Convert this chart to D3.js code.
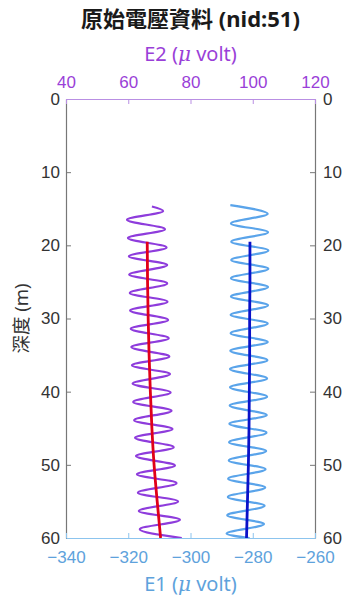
<!DOCTYPE html>
<html>
<head>
<meta charset="utf-8">
<script src="https://cdn.jsdelivr.net/npm/d3@7"></script>
<style>
  html, body { margin: 0; padding: 0; background: #fff; }
  svg { display: block; font-family: "Noto Sans", "Noto Sans CJK TC", sans-serif; }
</style>
</head>
<body>
<svg id="chart" width="345" height="601"></svg>
<script>
// Depth axis ticks (m) and the two voltage axes
const depthTicks = [0, 10, 20, 30, 40, 50, 60];
const e2Ticks = [40, 60, 80, 100, 120];
const e1Ticks = [-340, -320, -300, -280, -260];

// E2 raw record: depth (m) and voltage (μV)
const depthE2 = [14.7, 15.3, 16.5, 17.8, 19.0, 20.3, 21.5, 22.7, 24.0, 25.2, 26.5, 27.7, 28.9,
  30.2, 31.4, 32.7, 33.9, 35.2, 36.4, 37.6, 38.9, 40.1, 41.4, 42.6, 43.9, 45.1, 46.3, 47.6,
  48.8, 50.1, 51.3, 52.5, 53.8, 55.0, 56.3, 57.5, 58.8, 60.0];
const valueE2 = [67.6, 71.2, 59.6, 71.8, 59.9, 72.3, 60.2, 72.5, 60.3, 72.5, 60.5, 72.6, 60.6,
  72.8, 60.8, 73.0, 61.0, 73.2, 61.2, 73.4, 61.4, 73.6, 61.6, 73.9, 61.9, 74.2, 62.2, 74.6,
  62.5, 75.0, 62.8, 75.5, 63.1, 76.0, 63.4, 76.6, 63.7, 77.2];

// E1 raw record: depth (m) and voltage (μV)
const depthE1 = [14.5, 15.7, 17.0, 18.2, 19.5, 20.7, 22.0, 23.2, 24.5, 25.7, 27.0, 28.2, 29.5,
  30.7, 32.0, 33.2, 34.4, 35.7, 36.9, 38.2, 39.4, 40.7, 41.9, 43.2, 44.4, 45.6, 46.9, 48.1,
  49.4, 50.6, 51.9, 53.1, 54.4, 55.6, 56.9, 58.1, 59.4, 60.0];
const valueE1 = [-287.2, -275.2, -287.0, -275.1, -286.9, -275.0, -286.9, -275.0, -287.0, -275.1,
  -287.0, -275.1, -287.1, -275.2, -287.1, -275.2, -287.2, -275.3, -287.3, -275.4, -287.3, -275.4,
  -287.4, -275.5, -287.5, -275.6, -287.6, -275.7, -287.7, -275.9, -287.9, -276.0, -288.0, -276.2,
  -288.2, -276.4, -288.4, -281.0];

// Smoothed trends of both records
const trendDepth = [19.5, 25, 30, 35, 40, 45, 50, 55, 60];
const trendE2 = [66.1, 66.2, 66.4, 66.7, 67.1, 67.6, 68.3, 69.3, 70.4];
const trendE1 = [-280.9, -280.9, -281.0, -281.0, -281.1, -281.2, -281.4, -281.7, -282.0];

const margin = { left: 66, right: 30, top: 99, bottom: 63 };
const W = 345, H = 601;
const x0 = margin.left, x1 = W - margin.right;
const y0 = margin.top, y1 = H - margin.bottom;

const svg = d3.select("#chart");

const y = d3.scaleLinear().domain([0, 60]).range([y0, y1]);
const xE2 = d3.scaleLinear().domain([40, 120]).range([x0, x1]);
const xE1 = d3.scaleLinear().domain([-340, -260]).range([x0, x1]);

const purpleText = "#9a3fd8";
const blueText = "#5ea2dc";
const darkText = "#333333";
const tickFont = 17;

function zip(ds, vs) { return ds.map((d, i) => ({ d, v: vs[i] })); }

const lineE2 = d3.line().x(p => xE2(p.v)).y(p => y(p.d)).curve(d3.curveMonotoneY);
const lineE1 = d3.line().x(p => xE1(p.v)).y(p => y(p.d)).curve(d3.curveMonotoneY);

const plot = svg.append("g");

plot.append("path").datum(zip(depthE2, valueE2)).attr("d", lineE2)
  .attr("fill", "none").attr("stroke", "#8e3cdc").attr("stroke-width", 2.2);
plot.append("path").datum(zip(depthE1, valueE1)).attr("d", lineE1)
  .attr("fill", "none").attr("stroke", "#5aa4ea").attr("stroke-width", 2.2);
plot.append("path").datum(zip(trendDepth, trendE2)).attr("d", lineE2)
  .attr("fill", "none").attr("stroke", "#e0001a").attr("stroke-width", 2.8);
plot.append("path").datum(zip(trendDepth, trendE1)).attr("d", lineE1)
  .attr("fill", "none").attr("stroke", "#0a12c8").attr("stroke-width", 2.8);

// Axes
function styleAxis(g, lineColor, textColor) {
  g.select(".domain").attr("stroke", lineColor).attr("stroke-width", 1.2);
  g.selectAll(".tick line").attr("stroke", lineColor);
  g.selectAll(".tick text").attr("fill", textColor).attr("font-size", tickFont);
}

const leftAxis = svg.append("g").attr("transform", `translate(${x0},0)`)
  .call(d3.axisLeft(y).tickValues(depthTicks).tickSizeInner(-5).tickSizeOuter(0).tickPadding(6));
styleAxis(leftAxis, "#777777", darkText);

const rightAxis = svg.append("g").attr("transform", `translate(${x1},0)`)
  .call(d3.axisRight(y).tickValues(depthTicks).tickSizeInner(-5).tickSizeOuter(0).tickPadding(8));
styleAxis(rightAxis, "#777777", darkText);

const topAxis = svg.append("g").attr("transform", `translate(0,${y0})`)
  .call(d3.axisTop(xE2).tickValues(e2Ticks).tickSizeInner(-5).tickSizeOuter(0).tickPadding(11));
styleAxis(topAxis, "#b98fe3", purpleText);

const bottomAxis = svg.append("g").attr("transform", `translate(0,${y1})`)
  .call(d3.axisBottom(xE1).tickValues(e1Ticks).tickSizeInner(-5).tickSizeOuter(0).tickPadding(13));
styleAxis(bottomAxis, "#8cc4ee", blueText);

const cx = (x0 + x1) / 2;

// Titles
svg.append("text").attr("x", cx).attr("y", 27).attr("text-anchor", "middle")
  .attr("font-size", 22).attr("font-weight", "bold").attr("fill", "#1a1a1a")
  .text("原始電壓資料 (nid:51)");

const t2 = svg.append("text").attr("x", cx).attr("y", 61).attr("text-anchor", "middle")
  .attr("font-size", 20).attr("fill", purpleText);
t2.append("tspan").text("E2 (");
t2.append("tspan").attr("font-style", "italic").attr("font-family", "'DejaVu Serif', serif").text("μ");
t2.append("tspan").text(" volt)");

const t1 = svg.append("text").attr("x", cx).attr("y", 591).attr("text-anchor", "middle")
  .attr("font-size", 20).attr("fill", blueText);
t1.append("tspan").text("E1 (");
t1.append("tspan").attr("font-style", "italic").attr("font-family", "'DejaVu Serif', serif").text("μ");
t1.append("tspan").text(" volt)");

svg.append("text").attr("transform", `translate(28,${(y0 + y1) / 2}) rotate(-90)`)
  .attr("text-anchor", "middle").attr("font-size", 18.5).attr("fill", darkText)
  .text("深度 (m)");
</script>
</body>
</html>
